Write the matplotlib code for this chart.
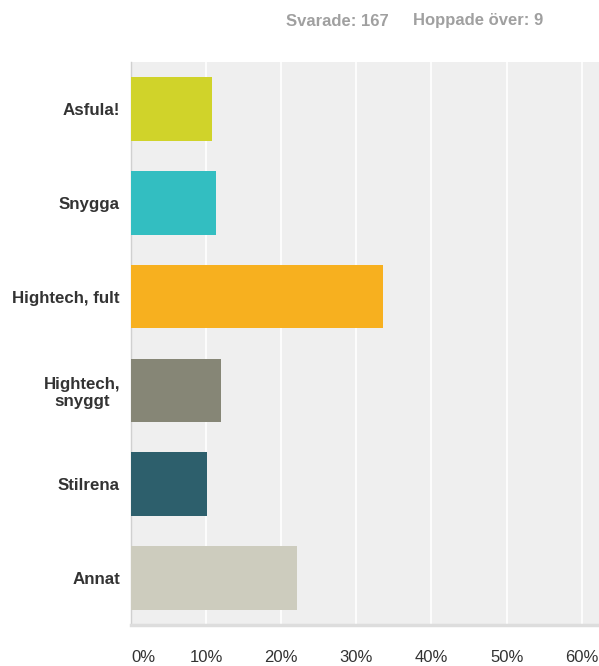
import matplotlib
matplotlib.use("Agg")
import matplotlib.pyplot as plt

categories = ["Asfula!", "Snygga", "Hightech, fult", "Hightech,\nsnyggt", "Stilrena", "Annat"]
values = [10.78, 11.38, 33.53, 11.98, 10.18, 22.16]
colors = ["#D0D32A", "#33BEC1", "#F7B01F", "#868676", "#2D5F6C", "#CDCCBE"]
xticks = [0, 10, 20, 30, 40, 50, 60]
xticklabels = ["0%", "10%", "20%", "30%", "40%", "50%", "60%"]
answered = 167
skipped = 9

plt.rcParams['font.family'] = ['Liberation Sans', 'DejaVu Sans']

fig = plt.figure(figsize=(5.99, 6.66), dpi=100)
ax = fig.add_axes([131/599, 1-625/666, 1-131/599, (625-62)/666])
ax.set_facecolor("#EFEFEF")

ypos = list(range(len(categories)))
ax.barh(ypos, values, height=0.68, color=colors, zorder=3)
ax.set_ylim(len(categories)-0.5, -0.5)
ax.set_xlim(0, 62.3)

ax.set_xticks(xticks)
ax.set_xticklabels(xticklabels, fontsize=12, color="#333333")
ax.get_xticklabels()[0].set_horizontalalignment("left")
ax.grid(axis="x", color="white", linewidth=1.2, zorder=1)
ax.tick_params(axis="x", length=0, pad=18)
ax.set_yticks(ypos)
ax.set_yticklabels(categories, fontsize=12.2, fontweight="bold", color="#333333", multialignment="center")
ax.tick_params(axis="y", length=0, pad=8)

for s in ["top", "right"]:
    ax.spines[s].set_visible(False)
ax.spines["left"].set_color("#D0D0D0")
ax.spines["left"].set_linewidth(1)
ax.spines["bottom"].set_color("#DDDDDD")
ax.spines["bottom"].set_linewidth(2.5)

fig.text(286/599, 1-21/666, f"Svarade: {answered}", fontsize=12, fontweight="bold", color="#A0A0A0", va="center", ha="left")
fig.text(413/599, 1-21/666, f"Hoppade över: {skipped}", fontsize=12, fontweight="bold", color="#A0A0A0", va="center", ha="left")

fig.savefig("out.png", dpi=100)
